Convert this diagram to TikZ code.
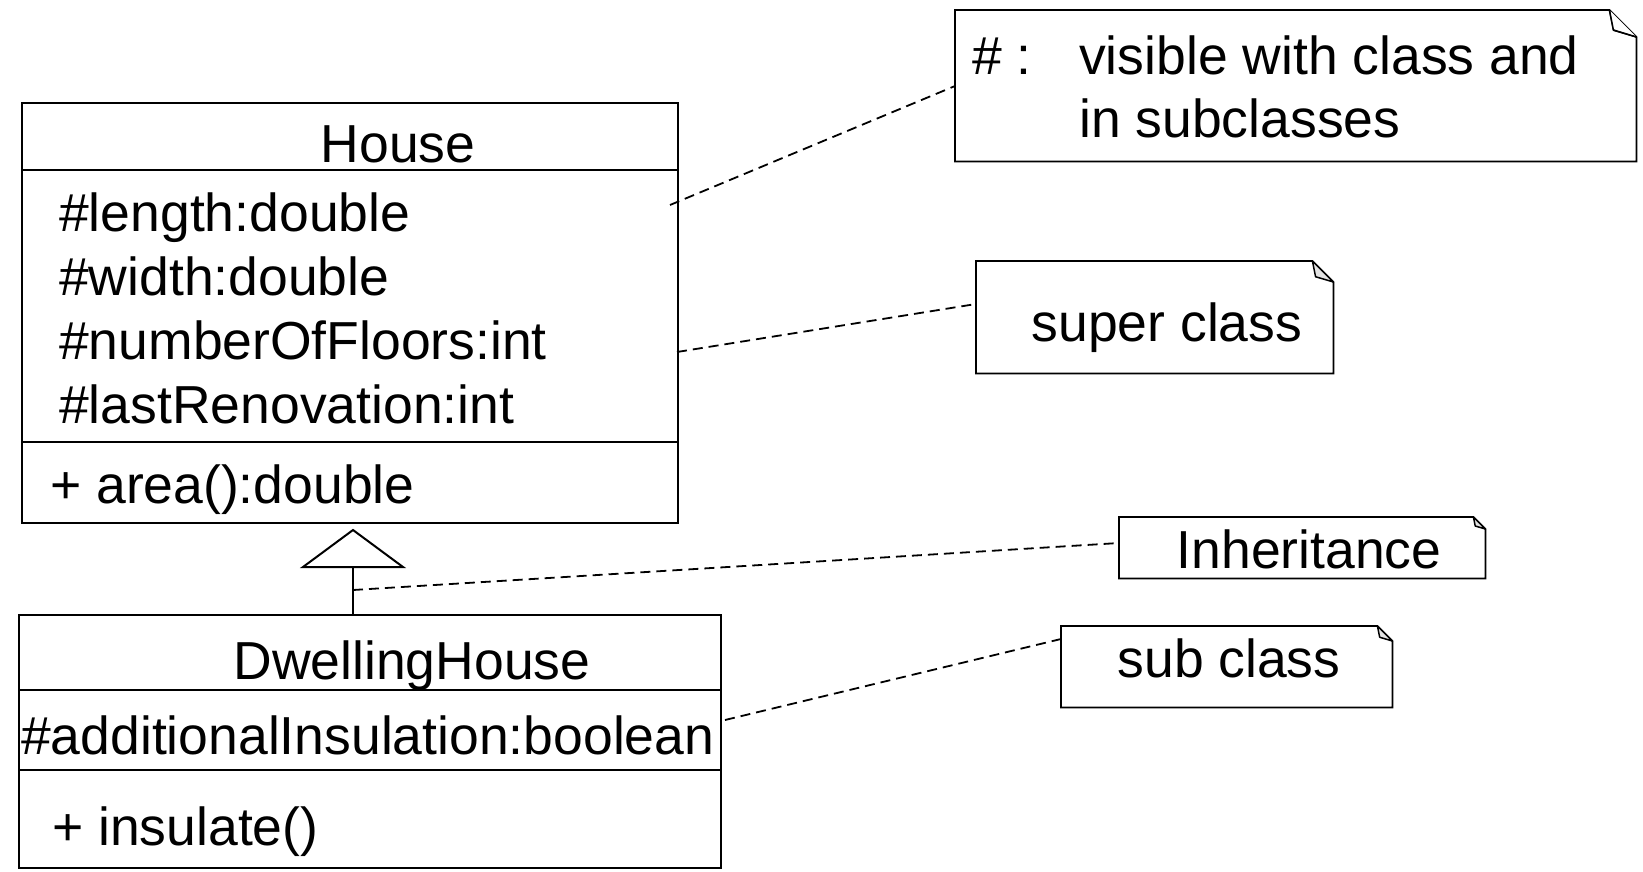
\documentclass[tikz,border=0pt]{standalone}
\usepackage{fontspec}
\setmainfont{Liberation Sans}
\begin{document}
\begin{tikzpicture}[x=1pt,y=-1pt,
  box/.style={draw, line width=2pt, inner sep=0pt, anchor=north west},
  frame/.style={inner sep=0pt, anchor=north west},
  txt/.style={inner sep=0pt, font=\fontsize{53.5}{64}\selectfont},
  divider/.style={line width=2pt},
  notelink/.style={line width=1.8pt, dash pattern=on 10pt off 6pt},
  outline/.style={line width=1.8pt, line join=miter},
  foldfill/.style={line width=1.5pt, fill=gray!22}]
\useasboundingbox (0,0) rectangle (1643,872);

% ---- class House ----
\node[box, minimum width=656pt, minimum height=420pt] (house) at (21,102) {};
\coordinate (h1l) at (21,170);  \coordinate (h1r) at (677,170);
\coordinate (h2l) at (21,442);  \coordinate (h2r) at (677,442);
\draw[divider] (h1l) -- (h1r);
\draw[divider] (h2l) -- (h2r);
\node[txt, anchor=base] (hname) at (398,162) {House};
\node[txt, anchor=base west] (ha1) at (59,231) {\#length:double};
\node[txt, anchor=base west] (ha2) at (59,295) {\#width:double};
\node[txt, anchor=base west] (ha3) at (59,359) {\#numberOfFloors:int};
\node[txt, anchor=base west] (ha4) at (59,423) {\#lastRenovation:int};
\node[txt, anchor=base west] (hop) at (50,503) {+ area():double};

% ---- class DwellingHouse ----
\node[box, minimum width=702pt, minimum height=253pt] (dwell) at (18,614) {};
\coordinate (d1l) at (18,690);  \coordinate (d1r) at (720,690);
\coordinate (d2l) at (18,770);  \coordinate (d2r) at (720,770);
\draw[divider] (d1l) -- (d1r);
\draw[divider] (d2l) -- (d2r);
\node[txt, anchor=base] (dname) at (412,679) {DwellingHouse};
\node[txt, anchor=base west] (da1) at (21,754) {\#additionalInsulation:boolean};
\node[txt, anchor=base west] (dop) at (52,845) {+ insulate()};

% ---- generalization ----
\coordinate (genfoot) at (353,614);
\coordinate (genbase) at (353,567);
\coordinate (genapex) at (353,530);
\coordinate (genbl) at (303,567);
\coordinate (genbr) at (403,567);
\draw[divider] (genfoot) -- (genbase);
\draw[divider, line join=miter] (genapex) -- (genbr) -- (genbl) -- cycle;

% ---- notes ----
\node[frame, minimum width=681pt, minimum height=151pt] (n1) at (955,10) {};
\node[frame, minimum width=357pt, minimum height=112pt] (n2) at (976,261) {};
\node[frame, minimum width=366pt, minimum height=61pt] (n3) at (1119,517) {};
\node[frame, minimum width=331pt, minimum height=81pt] (n4) at (1061,626) {};

\foreach \n/\f in {n1/27, n2/21, n3/12, n4/15}{
  \draw[outline] (\n.north west) -- ([xshift=-\f pt]\n.north east)
     -- ([yshift=-\f pt]\n.north east) -- (\n.south east)
     -- (\n.south west) -- cycle;
  \draw[foldfill, line join=round] ([xshift=-\f pt]\n.north east)
     -- ([xshift=-0.85*\f pt, yshift=-0.75*\f pt]\n.north east)
     -- ([yshift=-\f pt]\n.north east) -- cycle;
}
% the large note keeps a white fold
\fill[white] ([xshift=-26pt,yshift=-1pt]n1.north east) -- ([xshift=-23pt, yshift=-19pt]n1.north east) -- ([xshift=-1pt,yshift=-26pt]n1.north east) -- cycle;
\draw[line width=1.5pt, line join=round] ([xshift=-27pt]n1.north east) -- ([xshift=-23pt, yshift=-20pt]n1.north east) -- ([yshift=-27pt]n1.north east);

\node[txt, anchor=base west] (n1a) at (972,75) {\# :};
\node[txt, anchor=base west] (n1b) at (1079,75) {visible with class and};
\node[txt, anchor=base west] (n1c) at (1079,138) {in subclasses};
\node[txt, anchor=base] (n2t) at (1167,341) {super class};
\node[txt, anchor=base] (n3t) at (1309,568) {Inheritance};
\node[txt, anchor=base] (n4t) at (1229,677) {sub class};

% ---- note links ----
\coordinate (l1a) at (670,205);  \coordinate (l1b) at (955,86);
\coordinate (l2a) at (677,352);  \coordinate (l2b) at (976,304);
\coordinate (l3a) at (353,590);  \coordinate (l3b) at (1119,543);
\coordinate (l4a) at (725,720);  \coordinate (l4b) at (1061,639);
\draw[notelink] (l1a) -- (l1b);
\draw[notelink] (l2a) -- (l2b);
\draw[notelink] (l3a) -- (l3b);
\draw[notelink] (l4a) -- (l4b);
\end{tikzpicture}
\end{document}
